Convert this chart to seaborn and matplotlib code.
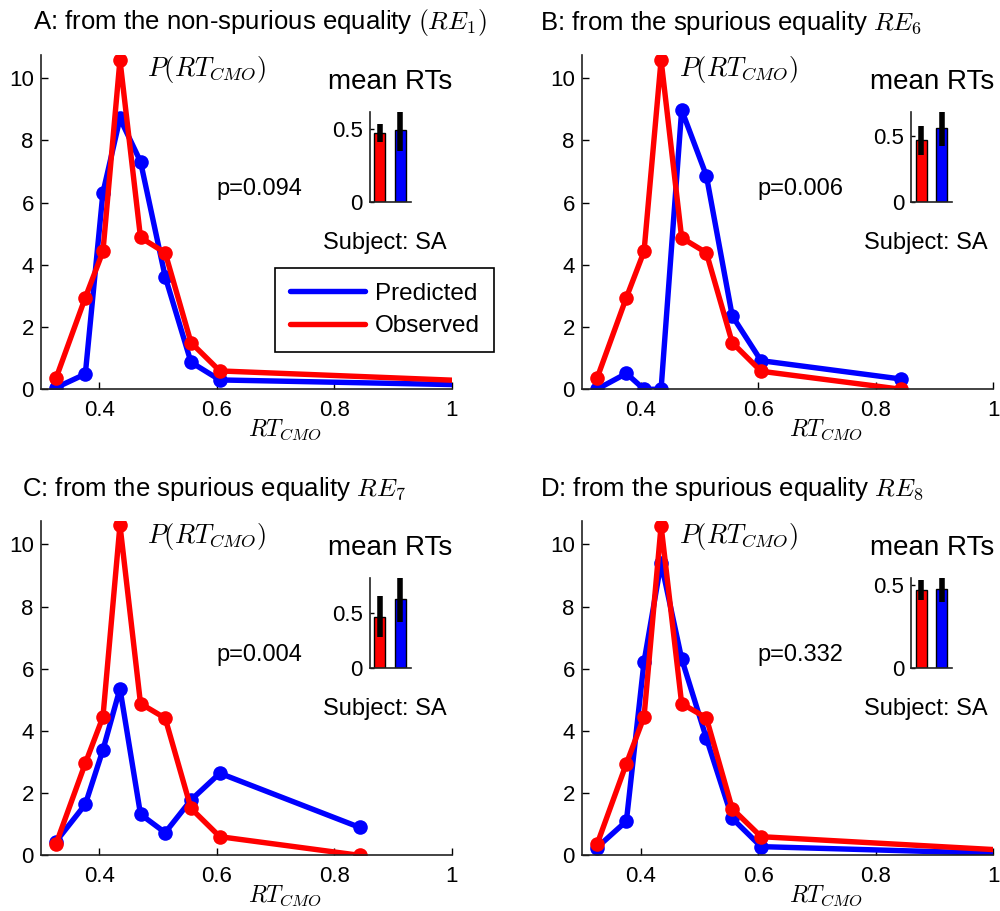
import matplotlib
matplotlib.use("Agg")
import matplotlib.pyplot as plt
import seaborn as sns
import pandas as pd
from matplotlib.lines import Line2D

# ---------------- data ----------------
rt_bins = [0.326, 0.376, 0.406, 0.435, 0.470, 0.512, 0.556, 0.605]
last_bin = [1.35, 0.843, 0.843, 1.12]          # last RT bin per panel (A, B, C, D)

pred_A = [0.05, 0.49, 6.32, 8.71, 7.32, 3.62, 0.87, 0.30, 0.02]
obs_A = [0.35, 2.95, 4.43, 10.59, 4.88, 4.39, 1.50, 0.59, 0.03]
pred_B = [0.00, 0.51, 0.00, 0.00, 8.98, 6.87, 2.36, 0.92, 0.33]
obs_B = [0.35, 2.95, 4.43, 10.59, 4.87, 4.39, 1.50, 0.58, 0.00]
pred_C = [0.44, 1.64, 3.39, 5.36, 1.32, 0.73, 1.78, 2.64, 0.90]
obs_C = [0.36, 2.96, 4.45, 10.62, 4.88, 4.41, 1.51, 0.60, 0.00]
pred_D = [0.25, 1.10, 6.22, 9.41, 6.32, 3.77, 1.19, 0.28, 0.00]
obs_D = [0.35, 2.95, 4.45, 10.60, 4.88, 4.42, 1.50, 0.60, 0.06]

titles = ["A: from the non-spurious equality $(RE_1)$",
          "B: from the spurious equality $RE_6$",
          "C: from the spurious equality $RE_7$",
          "D: from the spurious equality $RE_8$"]
p_texts = ["p=0.094", "p=0.006", "p=0.004", "p=0.332"]

# inset "mean RTs" (observed, predicted)
mean_obs = [0.47, 0.47, 0.47, 0.47]
err_obs = [0.062, 0.112, 0.19, 0.06]
mean_pred = [0.489, 0.567, 0.63, 0.475]
err_pred = [0.14, 0.142, 0.21, 0.08]
inset_top = [0.612, 0.686, 0.82, 0.54]

series_names = ["Predicted", "Observed"]
colors = {"Predicted": "#0000FF", "Observed": "#FF0000"}
x_ticks = [0.4, 0.6, 0.8, 1.0]
x_ticklabels = ["0.4", "0.6", "0.8", "1"]
y_ticks = [0, 2, 4, 6, 8, 10]

# ---------------- style ----------------
sns.set_style("ticks")
plt.rcParams["font.family"] = ["Liberation Sans", "DejaVu Sans"]
plt.rcParams["mathtext.fontset"] = "cm"
plt.rcParams["text.color"] = "black"
plt.rcParams["axes.labelcolor"] = "black"
plt.rcParams["xtick.color"] = "black"
plt.rcParams["ytick.color"] = "black"

fig = plt.figure(figsize=(10, 9.11), dpi=100)
positions = [[0.0407, 0.5727, 0.411, 0.367],
             [0.5817, 0.5727, 0.4116, 0.367],
             [0.0407, 0.0611, 0.411, 0.367],
             [0.5817, 0.0611, 0.4116, 0.367]]
title_x = [-0.019, -0.101, -0.045, -0.101]
ptext_x = [0.258, 0.2375, 0.258, 0.2375]

preds = [pred_A, pred_B, pred_C, pred_D]
obss = [obs_A, obs_B, obs_C, obs_D]

for i in range(4):
    ax = fig.add_axes(positions[i])
    xs = rt_bins + [last_bin[i]]
    df = pd.DataFrame({
        "RT": xs + xs,
        "P": preds[i] + obss[i],
        "Series": ["Predicted"] * len(xs) + ["Observed"] * len(xs),
    })
    sns.lineplot(data=df, x="RT", y="P", hue="Series", hue_order=series_names,
                 palette=colors, marker="o", markersize=10.5, markeredgewidth=0,
                 linewidth=3.9, ax=ax, legend=False, errorbar=None)
    ax.set_xlim(0.3, 1.0)
    ax.set_ylim(0, 10.75)
    ax.set_xticks(x_ticks)
    ax.set_xticklabels(x_ticklabels)
    ax.set_yticks(y_ticks)
    ax.tick_params(direction="in", length=5, width=1, labelsize=16, colors="black")
    ax.tick_params(axis="x", pad=8)
    ax.tick_params(axis="y", pad=5)
    for s in ["top", "right"]:
        ax.spines[s].set_visible(False)
    for s in ["left", "bottom"]:
        ax.spines[s].set_color("#222222")
        ax.spines[s].set_linewidth(1.2)
    ax.set_xlabel("")
    ax.set_ylabel("")
    ax.text(0.504, -0.12, "$RT_{CMO}$", transform=ax.transAxes, fontsize=17,
            ha="left", va="center")
    ax.text(title_x[i], 1.096, titles[i], transform=ax.transAxes, fontsize=18.5,
            ha="left", va="center")
    ax.text(ptext_x[i], 0.955, "$P(RT_{CMO})$", transform=ax.transAxes, fontsize=19,
            ha="left", va="center")
    ax.text(0.851, 0.92, "mean RTs", transform=ax.transAxes, fontsize=20,
            ha="center", va="center")
    ax.text(0.428, 0.598, p_texts[i], transform=ax.transAxes, fontsize=17,
            ha="left", va="center")
    ax.text(0.686, 0.4385, "Subject: SA", transform=ax.transAxes, fontsize=17,
            ha="left", va="center")

    # inset bar chart
    ins = ax.inset_axes([0.80, 0.560, 0.0998, 0.269])
    bar_df = pd.DataFrame({"Series": ["Observed", "Predicted"],
                           "RT": [mean_obs[i], mean_pred[i]]})
    sns.barplot(data=bar_df, x="Series", y="RT", hue="Series",
                palette={"Observed": "#FF0000", "Predicted": "#0000FF"},
                saturation=1, width=0.55, edgecolor="black", linewidth=1,
                ax=ins, legend=False, errorbar=None)
    ins.errorbar([0, 1], [mean_obs[i], mean_pred[i]], yerr=[err_obs[i], err_pred[i]],
                 fmt="none", ecolor="black", elinewidth=4, capsize=0)
    ins.set_xlim(-0.5, 1.5)
    ins.set_ylim(0, inset_top[i])
    ins.set_yticks([0, 0.5])
    ins.set_yticklabels(["0", "0.5"])
    ins.set_xticks([])
    ins.set_xlabel("")
    ins.set_ylabel("")
    ins.tick_params(direction="in", length=3, width=1, labelsize=16, pad=5)
    ins.set_facecolor("none")
    for s in ["top", "right"]:
        ins.spines[s].set_visible(False)
    for s in ["left", "bottom"]:
        ins.spines[s].set_color("#222222")
        ins.spines[s].set_linewidth(1.2)

    if i == 0:
        handles = [Line2D([], [], color=colors[n], lw=3.9) for n in series_names]
        leg = fig.legend(handles, series_names, loc="upper left",
                         bbox_to_anchor=(0.275, 0.7055), bbox_transform=fig.transFigure,
                         fontsize=17.5, handlelength=3.1, handletextpad=0.4,
                         borderpad=0.6, labelspacing=0.42, borderaxespad=0,
                         fancybox=False, framealpha=1, edgecolor="black")
        leg.get_frame().set_linewidth(1.2)

fig.savefig("out.png", dpi=100, facecolor="white")
